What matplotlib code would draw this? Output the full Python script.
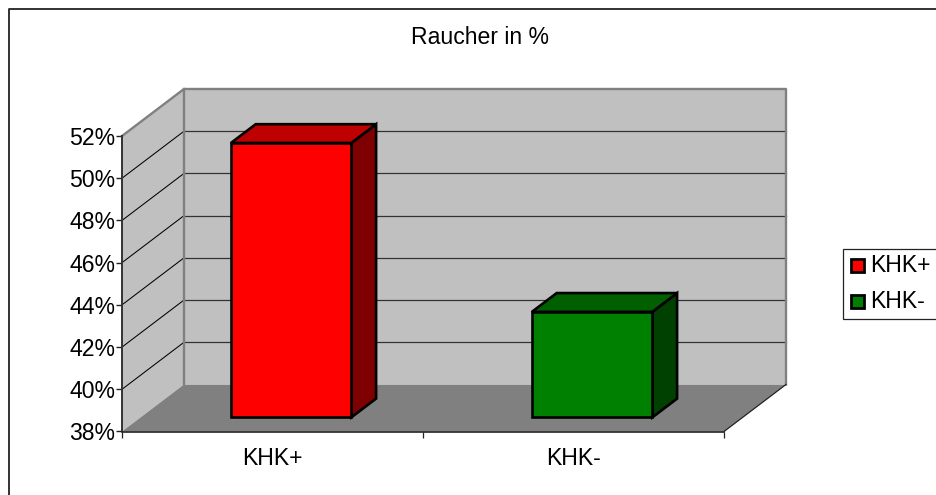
import matplotlib
matplotlib.use('Agg')
from matplotlib import pyplot as plt
from matplotlib.patches import Rectangle

plt.rcParams['font.family'] = ['Liberation Sans', 'DejaVu Sans']

categories = ['KHK+', 'KHK-']
smokers = [51, 43]
y_ticks = [38, 40, 42, 44, 46, 48, 50, 52]
front_colors = ['#ff0000', '#008000']
top_colors = ['#bf0000', '#006000']
side_colors = ['#7f0000', '#004000']

WIDTH, HEIGHT = 937, 495
FONT_SIZE = 16.6
# depth of the box, in category units and percent points
DEPTH_X = 62 / 301
DEPTH_Y = 47 / 21.1
# bars stand 30% into the box and use gap width 150
BAR_OFFSET = 0.3
BAR_WIDTH = 1 / 2.5
BAR_DEPTH = 0.4
Y_MIN, Y_MAX = y_ticks[0], y_ticks[-1]

fig = plt.figure(figsize=(WIDTH / 100, HEIGHT / 100), dpi=100)
ax = fig.add_axes([122 / WIDTH, (HEIGHT - 431.5) / HEIGHT, 602 / WIDTH, 295.5 / HEIGHT])
ax.set_xlim(0, len(categories))
ax.set_ylim(Y_MIN, Y_MAX)
ax.patch.set_visible(False)


def poly(xs, ys, color, z, edge='none', lw=0):
    ax.fill(xs, ys, facecolor=color, edgecolor=edge, linewidth=lw, zorder=z,
            clip_on=False, joinstyle='miter')


def line(xs, ys, color, lw, z):
    ax.plot(xs, ys, color=color, linewidth=lw, zorder=z, clip_on=False,
            solid_capstyle='projecting')


x_max = len(categories)
# walls and floor
poly([0, DEPTH_X, DEPTH_X, 0], [Y_MIN, Y_MIN + DEPTH_Y, Y_MAX + DEPTH_Y, Y_MAX], '#c0c0c0', 1)
poly([DEPTH_X, x_max + DEPTH_X, x_max + DEPTH_X, DEPTH_X],
     [Y_MIN + DEPTH_Y, Y_MIN + DEPTH_Y, Y_MAX + DEPTH_Y, Y_MAX + DEPTH_Y], '#c0c0c0', 1)
poly([0, x_max, x_max + DEPTH_X, DEPTH_X], [Y_MIN, Y_MIN, Y_MIN + DEPTH_Y, Y_MIN + DEPTH_Y],
     '#808080', 2)

# gridlines run along the side wall and across the back wall
for v in y_ticks[1:-1]:
    line([0, DEPTH_X], [v, v + DEPTH_Y], '#000000', 0.75, 3)
    line([DEPTH_X, x_max + DEPTH_X], [v + DEPTH_Y, v + DEPTH_Y], '#333333', 0.9, 3)

# wall borders
line([0, DEPTH_X, x_max + DEPTH_X, x_max + DEPTH_X],
     [Y_MAX, Y_MAX + DEPTH_Y, Y_MAX + DEPTH_Y, Y_MIN + DEPTH_Y], '#808080', 1.7, 4)
line([DEPTH_X, DEPTH_X], [Y_MIN + DEPTH_Y, Y_MAX + DEPTH_Y], '#808080', 1.7, 4)
line([x_max, x_max + DEPTH_X], [Y_MIN, Y_MIN + DEPTH_Y], '#222222', 0.9, 4)

# the bars
off_x = BAR_OFFSET * DEPTH_X
off_y = BAR_OFFSET * DEPTH_Y
bar_dx = BAR_DEPTH * DEPTH_X
bar_dy = BAR_DEPTH * DEPTH_Y
for i, value in enumerate(smokers):
    left = i + 0.5 - BAR_WIDTH / 2 + off_x
    right = left + BAR_WIDTH
    bottom = Y_MIN + off_y
    top = value + off_y
    poly([right, right + bar_dx, right + bar_dx, right],
         [bottom, bottom + bar_dy, top + bar_dy, top], side_colors[i], 5, 'black', 1.9)
    poly([left, left + bar_dx, right + bar_dx, right],
         [top, top + bar_dy, top + bar_dy, top], top_colors[i], 5, 'black', 1.9)
    poly([left, right, right, left], [bottom, bottom, top, top], front_colors[i], 6, 'black', 1.9)

# axes
for name in ['top', 'right']:
    ax.spines[name].set_visible(False)
ax.spines['left'].set_color('#333333')
ax.spines['left'].set_linewidth(1.4)
ax.spines['bottom'].set_color('#222222')
ax.spines['bottom'].set_linewidth(1.2)
for spine in ax.spines.values():
    spine.set_zorder(7)
ax.set_yticks(y_ticks)
ax.set_yticklabels([str(v) + '%' for v in y_ticks], fontsize=FONT_SIZE)
ax.set_xticks(range(x_max + 1))
ax.set_xticklabels([])
ax.set_xticks([i + 0.5 for i in range(x_max)], minor=True)
ax.set_xticklabels(categories, minor=True, fontsize=FONT_SIZE)
ax.tick_params(axis='x', which='minor', length=0, pad=11)
ax.tick_params(axis='x', which='major', length=4, width=0.9, color='#222222')
ax.tick_params(axis='y', length=4, width=1, color='#222222', pad=1)

fig.text(480.5 / WIDTH, 1 - 38 / HEIGHT, 'Raucher in %', fontsize=FONT_SIZE, ha='center', va='center')

# chart frame runs off the right and bottom of the canvas
fig.add_artist(plt.Line2D([9 / WIDTH, 9 / WIDTH, 1], [0, 1 - 9 / HEIGHT, 1 - 9 / HEIGHT],
                          color='#222222', linewidth=1.3))

# legend box, also running off the right side
fig.add_artist(Rectangle((843 / WIDTH, 1 - 319 / HEIGHT), 100 / WIDTH, 70 / HEIGHT,
                         transform=fig.transFigure, facecolor='white', edgecolor='#222222',
                         linewidth=0.9))
for name, color, cy in zip(categories, front_colors, [265.7, 301.5]):
    fig.add_artist(Rectangle((851.5 / WIDTH, 1 - (cy + 6.5) / HEIGHT), 13 / WIDTH, 13 / HEIGHT,
                             transform=fig.transFigure, facecolor=color, edgecolor='black',
                             linewidth=2))
    fig.text(870.5 / WIDTH, 1 - cy / HEIGHT, name, fontsize=FONT_SIZE, ha='left', va='center')

plt.savefig('out.png', dpi=100)
plt.close()
